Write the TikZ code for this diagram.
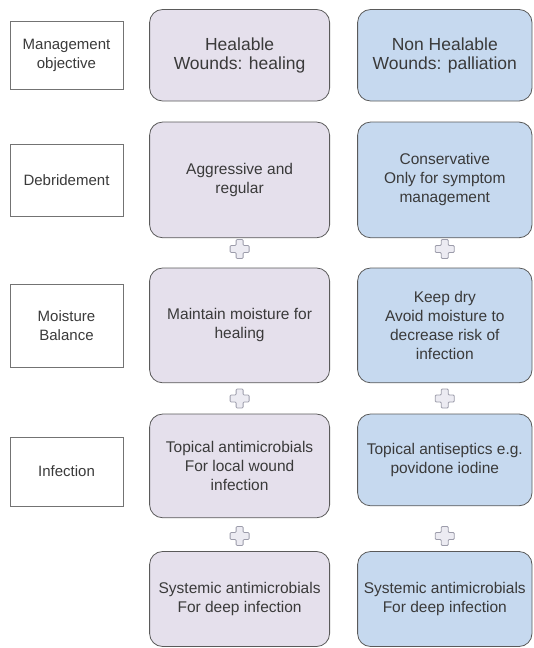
\documentclass[tikz,border=0pt]{standalone}
\usepackage{fontspec}
\setmainfont{Liberation Sans}
\definecolor{healfill}{HTML}{E5E0EC}
\definecolor{nonfill}{HTML}{C6D9EF}
\definecolor{edgecol}{HTML}{5A5A5A}
\definecolor{txtcol}{HTML}{3A3A3A}
\definecolor{plusedge}{HTML}{9C9CAA}
\definecolor{plusfill}{HTML}{ECEBF2}
\tikzset{
  labelbox/.style={draw=edgecol!85, line width=0.8pt, fill=white, minimum width=113pt,
    inner sep=0pt, align=center, text=txtcol, font=\fontsize{15}{19}\selectfont},
  cellbox/.style={draw=edgecol, line width=0.8pt, rounded corners=13pt, inner sep=0pt,
    align=center, text=txtcol, font=\fontsize{15.5}{19}\selectfont},
  healbox/.style={cellbox, fill=healfill, minimum width=180pt},
  nonbox/.style={cellbox, fill=nonfill, minimum width=174.4pt},
  headfont/.style={font=\fontsize{17.5}{18.6}\selectfont},
  plussign/.pic={
    \draw[draw=plusedge, fill=plusfill, line width=0.8pt, rounded corners=1pt]
      (-3.5,-9.5) -- (3.5,-9.5) -- (3.5,-3.5) -- (9.5,-3.5) -- (9.5,3.5) -- (3.5,3.5)
      -- (3.5,9.5) -- (-3.5,9.5) -- (-3.5,3.5) -- (-9.5,3.5) -- (-9.5,-3.5) -- (-3.5,-3.5) -- cycle;
  }
}
\begin{document}
\begin{tikzpicture}[x=1pt,y=-1pt]
\useasboundingbox (0,0) rectangle (533,648);
% label boxes
\node[labelbox, minimum height=68pt] (l1) at (66.5,55) {Management\\objective};
\node[labelbox, minimum height=72pt] (l2) at (66.5,180) {Debridement};
\node[labelbox, minimum height=83pt] (l3) at (66.5,326) {Moisture\\Balance};
\node[labelbox, minimum height=69pt] (l4) at (66.5,471.5) {Infection};
% healable column
\node[healbox, headfont, minimum height=91.5pt] (h1) at (239.6,55.25) {Healable\\Wounds: healing};
\node[healbox, minimum height=115.7pt] (h2) at (239.6,179.9) {Aggressive and\\regular};
\node[healbox, minimum height=114.8pt] (h3) at (239.6,325.4) {Maintain moisture for\\healing};
\node[healbox, minimum height=103.7pt] (h4) at (239.6,465.9) {Topical antimicrobials\\For local wound\\infection};
\node[healbox, minimum height=95pt] (h5) at (239.6,599) {Systemic antimicrobials\\For deep infection};
% non healable column
\node[nonbox, headfont, minimum height=91.5pt] (n1) at (444.8,55.25) {Non Healable\\Wounds: palliation};
\node[nonbox, minimum height=115.7pt] (n2) at (444.8,179.9) {Conservative\\Only for symptom\\management};
\node[nonbox, minimum height=114.8pt] (n3) at (444.8,325.4) {Keep dry\\Avoid moisture to\\decrease risk of\\infection};
\node[nonbox, minimum height=91.8pt] (n4) at (444.8,459.9) {Topical antiseptics e.g.\\povidone iodine};
\node[nonbox, minimum height=95pt] (n5) at (444.8,599) {Systemic antimicrobials\\For deep infection};
% plus signs
\pic at (239.6,249) {plussign};
\pic at (444.8,249) {plussign};
\pic at (239.6,398.5) {plussign};
\pic at (444.8,398.5) {plussign};
\pic at (239.6,536) {plussign};
\pic at (444.8,536) {plussign};
\end{tikzpicture}
\end{document}
